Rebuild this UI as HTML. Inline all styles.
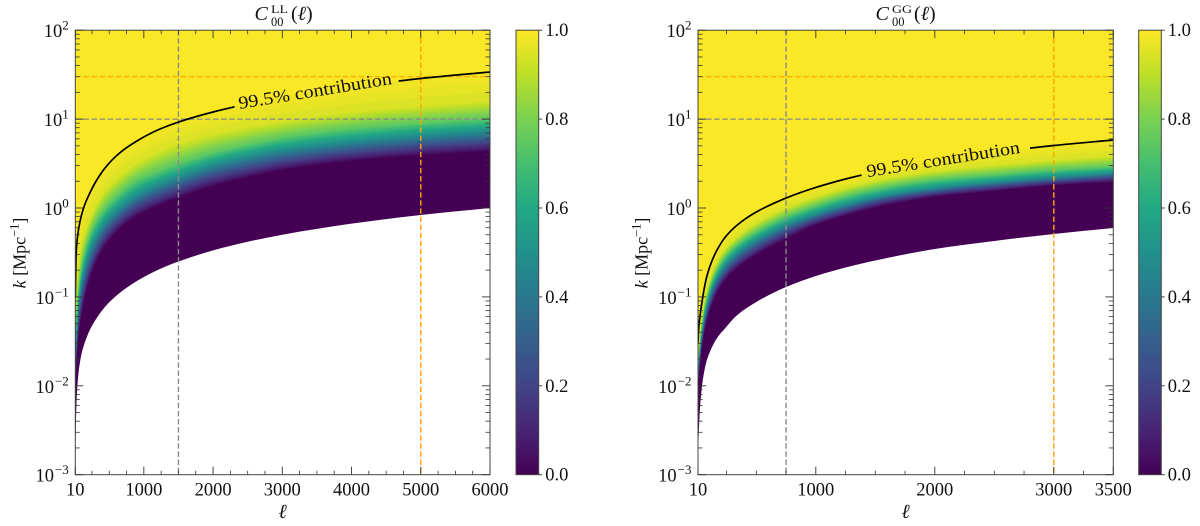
<!DOCTYPE html>
<html lang="en">
<head>
<meta charset="utf-8">
<title>C00 contribution maps</title>
<style>
html,body{margin:0;padding:0;background:#fff;}
svg{display:block;}
text{font-family:"Liberation Serif","DejaVu Serif",serif;fill:#111;}
</style>
</head>
<body>
<svg id="chart" xmlns="http://www.w3.org/2000/svg" width="1200" height="526" viewBox="0 0 1200 526">
  <defs>
    <clipPath id="clip-left"><rect x="75.3" y="30.2" width="414.7" height="444.5"/></clipPath>
    <clipPath id="clip-right"><rect x="698" y="30.2" width="415.3" height="444.5"/></clipPath>
    <linearGradient id="viridis-gradient" x1="0" y1="1" x2="0" y2="0"></linearGradient>
  </defs>
  <rect x="0" y="0" width="1200" height="526" fill="#fff"/>
  <g id="panel-left"></g>
  <g id="panel-right"></g>

  <g>
    <text x="254.5" y="20" font-size="20" font-style="italic">C</text>
    <text x="271" y="13" font-size="11.5" textLength="17" lengthAdjust="spacingAndGlyphs">LL</text>
    <text x="271" y="26" font-size="12.5">00</text>
    <text x="291" y="20" font-size="20">(<tspan font-style="italic">ℓ</tspan>)</text>
  </g>
  <g>
    <text x="875.5" y="20" font-size="20" font-style="italic">C</text>
    <text x="892" y="13" font-size="11.5" textLength="20" lengthAdjust="spacingAndGlyphs">GG</text>
    <text x="892" y="26" font-size="12.5">00</text>
    <text x="914" y="20" font-size="20">(<tspan font-style="italic">ℓ</tspan>)</text>
  </g>

  <text x="282.5" y="518" font-size="20" font-style="italic" text-anchor="middle">ℓ</text>
  <text x="905.5" y="518" font-size="20" font-style="italic" text-anchor="middle">ℓ</text>
  <text transform="translate(25.5,253) rotate(-90)" font-size="18" text-anchor="middle"><tspan font-style="italic">k</tspan> [Mpc<tspan font-size="12.5" dy="-7">−1</tspan><tspan dy="7">]</tspan></text>
  <text transform="translate(647.5,253) rotate(-90)" font-size="18" text-anchor="middle"><tspan font-style="italic">k</tspan> [Mpc<tspan font-size="12.5" dy="-7">−1</tspan><tspan dy="7">]</tspan></text>

  <text transform="translate(316,96.5) rotate(-9.3)" font-size="18" text-anchor="middle" textLength="155" lengthAdjust="spacingAndGlyphs">99.5% contribution</text>
  <text transform="translate(944,165) rotate(-9)" font-size="18" text-anchor="middle" textLength="155" lengthAdjust="spacingAndGlyphs">99.5% contribution</text>
</svg>

<script>
// ---- shared tick values ----
const yDecadeExponents = [2, 1, 0, -1, -2, -3];
const colorbarTicks = [0, 0.2, 0.4, 0.6, 0.8, 1];
const colorbarTickLabels = ['0.0', '0.2', '0.4', '0.6', '0.8', '1.0'];
const viridisStops = ['#440154','#482475','#414487','#355f8d','#2a788e','#21918c','#22a884','#44bf70','#7ad151','#bddf26','#fde725'];
// colour fraction of each read iso-contour (last is the 99.5% contour)
const contourFractions = [0.02, 0.25, 0.5, 0.75, 0.95, 0.995];

// ---- left panel C_00^LL : values, log10(k) versus ell ----
const llEll = [10,20,35,60,100,150,220,320,450,650,900,1200,1500,2000,2500,3000,4000,5000,6000];
const llLowerEdge = [-2.779,-2.385,-2.070,-1.834,-1.642,-1.507,-1.372,-1.237,-1.102,-0.956,-0.821,-0.697,-0.602,-0.477,-0.380,-0.301,-0.176,-0.079,0];
const llF02 = [-2.104,-1.879,-1.654,-1.429,-1.204,-1.001,-0.799,-0.596,-0.416,-0.236,-0.090,0.022,0.112,0.247,0.343,0.427,0.529,0.591,0.641];
const llF25 = [-1.890,-1.687,-1.485,-1.260,-1.024,-0.832,-0.641,-0.450,-0.281,-0.112,0.034,0.146,0.236,0.371,0.461,0.540,0.641,0.709,0.754];
const llF50 = [-1.687,-1.507,-1.316,-1.091,-0.844,-0.664,-0.484,-0.315,-0.157,0,0.146,0.259,0.349,0.484,0.579,0.652,0.748,0.816,0.866];
const llF75 = [-1.485,-1.316,-1.125,-0.911,-0.675,-0.495,-0.315,-0.146,0,0.157,0.304,0.405,0.495,0.619,0.709,0.787,0.889,0.951,1.001];
const llF95 = [-1.237,-1.035,-0.855,-0.652,-0.439,-0.281,-0.124,0.045,0.202,0.360,0.506,0.630,0.720,0.832,0.911,0.979,1.080,1.147,1.204];
const llContour = [-1.012,-0.562,-0.371,-0.225,-0.079,0.045,0.169,0.315,0.461,0.619,0.754,0.877,0.967,1.080,1.170,1.249,1.361,1.457,1.530];
const llContourGap = [2310, 4680];
const llMajorTicks = [10,1000,2000,3000,4000,5000,6000];
const llMajorLabels = ['10','1000','2000','3000','4000','5000','6000'];
const llMinorTicks = [250,500,750,1250,1500,1750,2250,2500,2750,3250,3500,3750,4250,4500,4750,5250,5500,5750];
const llGrayEll = 1500;
const llOrangeEll = 5000;

// ---- right panel C_00^GG ----
const ggEll = [10,15,25,40,60,85,120,170,240,340,500,750,1000,1300,1600,2000,2500,3000,3500];
const ggLowerEdge = [-2.779,-2.587,-2.295,-2.047,-1.856,-1.710,-1.586,-1.462,-1.350,-1.204,-1.057,-0.889,-0.765,-0.652,-0.562,-0.461,-0.371,-0.292,-0.225];
const ggF02 = [-2.070,-1.946,-1.789,-1.609,-1.429,-1.271,-1.114,-0.956,-0.810,-0.675,-0.529,-0.349,-0.191,-0.067,0.034,0.124,0.191,0.253,0.292];
const ggF25 = [-1.980,-1.856,-1.699,-1.519,-1.339,-1.181,-1.024,-0.866,-0.720,-0.585,-0.439,-0.259,-0.124,0,0.101,0.180,0.247,0.304,0.349];
const ggF50 = [-1.901,-1.777,-1.620,-1.440,-1.260,-1.102,-0.945,-0.787,-0.641,-0.506,-0.360,-0.191,-0.067,0.056,0.146,0.225,0.292,0.349,0.394];
const ggF75 = [-1.811,-1.687,-1.530,-1.350,-1.170,-1.012,-0.855,-0.697,-0.551,-0.416,-0.270,-0.101,0.022,0.146,0.236,0.315,0.371,0.427,0.461];
const ggF95 = [-1.732,-1.597,-1.440,-1.260,-1.080,-0.922,-0.765,-0.607,-0.461,-0.326,-0.169,0,0.124,0.247,0.337,0.416,0.484,0.540,0.585];
const ggContour = [-1.519,-1.372,-1.237,-1.091,-0.922,-0.765,-0.619,-0.472,-0.326,-0.191,-0.045,0.112,0.231,0.343,0.433,0.529,0.624,0.703,0.765];
const ggContourGap = [1385, 2800];
const ggMajorTicks = [10,1000,2000,3000,3500];
const ggMajorLabels = ['10','1000','2000','3000','3500'];
const ggMinorTicks = [250,500,750,1250,1500,1750,2250,2500,2750,3250];
const ggGrayEll = 750;
const ggOrangeEll = 3000;

// reference lines shared by both panels
const grayK = 10;
const orangeK = 30;

const NS = 'http://www.w3.org/2000/svg';
function mk(parent, tag, attrs, txt) {
  const el = document.createElementNS(NS, tag);
  for (const a in attrs) el.setAttribute(a, attrs[a]);
  if (txt !== undefined) el.textContent = txt;
  parent.appendChild(el);
  return el;
}
function hexRgb(h) {
  return [parseInt(h.substr(1,2),16), parseInt(h.substr(3,2),16), parseInt(h.substr(5,2),16)];
}
function viridis(f) {
  const p = Math.max(0, Math.min(1, f)) * (viridisStops.length - 1);
  const i = Math.min(viridisStops.length - 2, Math.floor(p));
  const t = p - i;
  const a = hexRgb(viridisStops[i]);
  const b = hexRgb(viridisStops[i + 1]);
  return 'rgb(' + a.map(function (v, n) { return Math.round(v + (b[n] - v) * t); }).join(',') + ')';
}
// monotone cubic curve through pixel points (x strictly increasing)
function smoothPath(pts) {
  const n = pts.length;
  const h = [], s = [], m = [];
  for (let i = 0; i < n - 1; i++) {
    h.push(pts[i + 1][0] - pts[i][0]);
    s.push((pts[i + 1][1] - pts[i][1]) / h[i]);
  }
  m[0] = s[0];
  m[n - 1] = s[n - 2];
  for (let i = 1; i < n - 1; i++) {
    if (s[i - 1] * s[i] <= 0) { m[i] = 0; continue; }
    const w1 = 2 * h[i] + h[i - 1];
    const w2 = h[i] + 2 * h[i - 1];
    m[i] = (w1 + w2) / (w1 / s[i - 1] + w2 / s[i]);
  }
  let d = 'M' + pts[0][0].toFixed(2) + ' ' + pts[0][1].toFixed(2);
  for (let i = 0; i < n - 1; i++) {
    const c1x = pts[i][0] + h[i] / 3;
    const c1y = pts[i][1] + m[i] * h[i] / 3;
    const c2x = pts[i + 1][0] - h[i] / 3;
    const c2y = pts[i + 1][1] - m[i + 1] * h[i] / 3;
    d += 'C' + c1x.toFixed(2) + ' ' + c1y.toFixed(2) + ' ' + c2x.toFixed(2) + ' ' + c2y.toFixed(2) + ' ' + pts[i + 1][0].toFixed(2) + ' ' + pts[i + 1][1].toFixed(2);
  }
  return d;
}

function drawPanel(id, layout, ell, lower, curves, contour, gap, majors, majorLabels, minors, grayEll, orangeEll) {
  const g = document.getElementById(id);
  const L = layout.left, R = layout.right, T = layout.top, B = layout.bottom;
  const ellMin = ell[0], ellMax = ell[ell.length - 1];
  const xScale = function (l) { return L + (l - ellMin) / (ellMax - ellMin) * (R - L); };
  const yLog = function (lk) { return T + (2 - lk) / 5 * (B - T); };
  const yScale = function (k) { return yLog(Math.log10(k)); };

  const heat = mk(g, 'g', { 'clip-path': 'url(#' + layout.clip + ')' });
  
  

  function fillAbove(logKs, color) {
    const pts = ell.map(function (l, i) { return [xScale(l), yLog(logKs[i])]; });
    const d = smoothPath(pts) + 'L' + R + ' ' + T + 'L' + L + ' ' + T + 'Z';
    const p = mk(heat, 'path', { d: d, fill: color });
    
    
  }
  // dark floor from the lower edge upward
  fillAbove(lower, viridis(0));
  // colour levels between read contours
  const all = curves.concat([contour]);
  for (let step = 0; step < 64; step++) {
    const f = 0.02 + (0.995 - 0.02) * step / 63;
    let j = 0;
    while (j < contourFractions.length - 2 && f > contourFractions[j + 1]) j++;
    const t = (f - contourFractions[j]) / (contourFractions[j + 1] - contourFractions[j]);
    const vals = ell.map(function (l, i) { return all[j][i] + (all[j + 1][i] - all[j][i]) * t; });
    fillAbove(vals, viridis(f));
  }

  // dashed reference lines
  const vGray = mk(g, 'line', { x1: xScale(grayEll), x2: xScale(grayEll), y1: T, y2: B, stroke: '#8a8a8a', 'stroke-width': 1.4, 'stroke-dasharray': '5.5 2.6' });
  
  
  const vOrange = mk(g, 'line', { x1: xScale(orangeEll), x2: xScale(orangeEll), y1: T, y2: B, stroke: '#ffa500', 'stroke-width': 1.4, 'stroke-dasharray': '5.5 2.6' });
  
  
  const hGray = mk(g, 'line', { x1: L, x2: R, y1: yScale(grayK), y2: yScale(grayK), stroke: '#8a8a8a', 'stroke-width': 1.2, 'stroke-dasharray': '5.5 2.6' });
  
  
  const hOrange = mk(g, 'line', { x1: L, x2: R, y1: yScale(orangeK), y2: yScale(orangeK), stroke: '#ffa500', 'stroke-width': 1.2, 'stroke-dasharray': '5.5 2.6' });
  
  

  // 99.5% contour with a gap for its inline label
  const cg = mk(g, 'clipPath', { id: id + '-contour-clip' });
  mk(cg, 'rect', { x: L, y: T, width: xScale(gap[0]) - L, height: B - T });
  mk(cg, 'rect', { x: xScale(gap[1]), y: T, width: R - xScale(gap[1]), height: B - T });
  const cPts = ell.map(function (l, i) { return [xScale(l), yLog(contour[i])]; });
  const cLine = mk(g, 'path', { d: smoothPath(cPts), fill: 'none', stroke: '#000', 'stroke-width': 1.7, 'clip-path': 'url(#' + id + '-contour-clip)' });
  
  

  // spines
  const frame = mk(g, 'rect', { x: L, y: T, width: R - L, height: B - T, fill: 'none', stroke: '#444', 'stroke-width': 1 });
  
  

  // x ticks
  majors.forEach(function (l, i) {
    const tb = mk(g, 'line', { x1: xScale(l), x2: xScale(l), y1: B, y2: B - 8, stroke: '#333', 'stroke-width': 0.9 });
    
    
    const tt = mk(g, 'line', { x1: xScale(l), x2: xScale(l), y1: T, y2: T + 8, stroke: '#333', 'stroke-width': 0.9 });
    
    
    const lab = mk(g, 'text', { x: xScale(l), y: B + 21, 'font-size': 18.5, 'text-anchor': 'middle' }, majorLabels[i]);
    
    
  });
  minors.forEach(function (l) {
    const tb = mk(g, 'line', { x1: xScale(l), x2: xScale(l), y1: B, y2: B - 4, stroke: '#333', 'stroke-width': 0.8 });
    
    
    const tt = mk(g, 'line', { x1: xScale(l), x2: xScale(l), y1: T, y2: T + 4, stroke: '#333', 'stroke-width': 0.8 });
    
    
  });

  // y ticks
  yDecadeExponents.forEach(function (e) {
    const y = yLog(e);
    const tl = mk(g, 'line', { x1: L, x2: L + 8, y1: y, y2: y, stroke: '#333', 'stroke-width': 0.9 });
    
    
    const tr = mk(g, 'line', { x1: R, x2: R - 8, y1: y, y2: y, stroke: '#333', 'stroke-width': 0.9 });
    
    
    const lab = mk(g, 'text', { x: L - 6.5, y: y + 7, 'font-size': 18.5, 'text-anchor': 'end' }, '10');
    
    
    const sup = mk(lab, 'tspan', { 'font-size': 13, dy: -7.5, dx: e < 0 ? 1 : 0 }, String(e).replace('-', '\u2212'));
    
    
    if (e > -3) {
      for (let m = 2; m <= 9; m++) {
        const ym = yLog(e - 1 + Math.log10(m));
        const ml = mk(g, 'line', { x1: L, x2: L + 4.5, y1: ym, y2: ym, stroke: '#333', 'stroke-width': 0.8 });
        
        
        const mr = mk(g, 'line', { x1: R, x2: R - 4.5, y1: ym, y2: ym, stroke: '#333', 'stroke-width': 0.8 });
        
        
      }
    }
  });

  // colourbar
  const cb = mk(g, 'g', {});
  
  
  const bar = mk(cb, 'rect', { x: layout.cbLeft, y: T, width: layout.cbRight - layout.cbLeft, height: B - T, fill: 'url(#viridis-gradient)', stroke: '#444', 'stroke-width': 1 });
  
  
  colorbarTicks.forEach(function (v, i) {
    const y = B - v * (B - T);
    const t = mk(cb, 'line', { x1: layout.cbRight, x2: layout.cbRight + 3.5, y1: y, y2: y, stroke: '#333', 'stroke-width': 0.9 });
    
    
    const lab = mk(cb, 'text', { x: layout.cbRight + 6.5, y: y + 6, 'font-size': 18.5 }, colorbarTickLabels[i]);
    
    
  });
}

const grad = document.getElementById('viridis-gradient');
viridisStops.forEach(function (c, i) {
  mk(grad, 'stop', { offset: (i / (viridisStops.length - 1)), 'stop-color': c });
});

drawPanel('panel-left',
  { left: 75.3, right: 490, top: 30.2, bottom: 474.7, clip: 'clip-left', cbLeft: 516, cbRight: 538.7 },
  llEll, llLowerEdge, [llF02, llF25, llF50, llF75, llF95], llContour, llContourGap,
  llMajorTicks, llMajorLabels, llMinorTicks, llGrayEll, llOrangeEll);

drawPanel('panel-right',
  { left: 698, right: 1113.3, top: 30.2, bottom: 474.7, clip: 'clip-right', cbLeft: 1138.7, cbRight: 1161.3 },
  ggEll, ggLowerEdge, [ggF02, ggF25, ggF50, ggF75, ggF95], ggContour, ggContourGap,
  ggMajorTicks, ggMajorLabels, ggMinorTicks, ggGrayEll, ggOrangeEll);
</script>
</body>
</html>
